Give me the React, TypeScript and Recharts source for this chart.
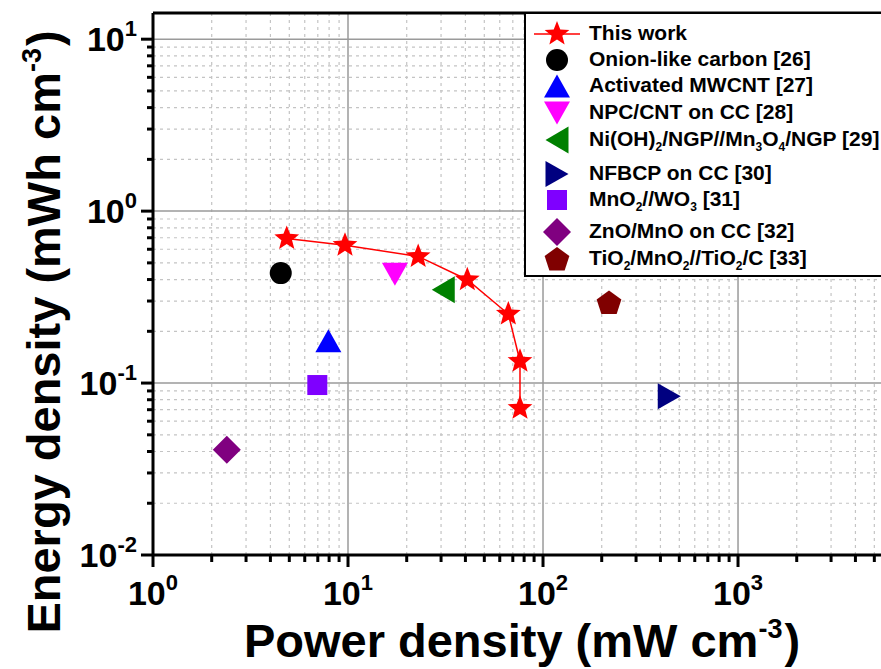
import React from "react";
import { ScatterChart, Scatter, XAxis, YAxis, ReferenceLine, Label } from "recharts";

const FONT = '"Liberation Sans", Arial, sans-serif';

// x: power density (mW cm-3), y: energy density (mWh cm-3)
const thisWorkX = [4.85, 9.65, 22.9, 40.9, 66.4, 76.2, 76.2];
const thisWorkY = [0.694, 0.634, 0.545, 0.399, 0.252, 0.134, 0.0713];

const refNames = [
  "Onion-like carbon [26]",
  "Activated MWCNT [27]",
  "NPC/CNT on CC [28]",
  "Ni(OH)_2/NGP//Mn_3O_4/NGP [29]",
  "NFBCP on CC [30]",
  "MnO_2//WO_3 [31]",
  "ZnO/MnO on CC [32]",
  "TiO_2/MnO_2//TiO_2/C [33]",
];
const refX = [4.52, 7.93, 17.4, 30.8, 444, 6.96, 2.39, 218];
const refY = [0.436, 0.176, 0.43, 0.349, 0.0837, 0.0974, 0.0409, 0.294];
const refColors = ["#000000", "#0000ff", "#ff00ff", "#008000", "#000080", "#7f00ff", "#800080", "#800000"];
const refShapes = ["circle", "up", "down", "left", "right", "square", "diamond", "pentagon"];

const xMajor = [1, 10, 100, 1000];
const yMajor = [0.01, 0.1, 1, 10];
const xMinor = [2, 3, 4, 5, 6, 7, 8, 9, 20, 30, 40, 50, 60, 70, 80, 90, 200, 300, 400, 500, 600, 700, 800, 900, 2000, 3000, 4000, 5000];
const yMinor = [0.02, 0.03, 0.04, 0.05, 0.06, 0.07, 0.08, 0.09, 0.2, 0.3, 0.4, 0.5, 0.6, 0.7, 0.8, 0.9, 2, 3, 4, 5, 6, 7, 8, 9];
const X_DOMAIN = [1, 5410];
const Y_DOMAIN = [0.01, 14.2];

const legendTops = [32, 58, 84, 111, 138, 172, 198, 230, 257];

function polygon(cx: number, cy: number, n: number, r: number, rot: number, inner?: number) {
  const pts: string[] = [];
  const count = inner ? n * 2 : n;
  for (let i = 0; i < count; i++) {
    const rr = inner && i % 2 === 1 ? inner : r;
    const a = rot + (i * Math.PI * 2) / count;
    pts.push(`${cx + rr * Math.cos(a)},${cy + rr * Math.sin(a)}`);
  }
  return pts.join(" ");
}

function Marker({ kind, cx, cy, color }: { kind: string; cx: number; cy: number; color: string }) {
  switch (kind) {
    case "star":
      return <polygon points={polygon(cx, cy, 5, 13, -Math.PI / 2, 5.6)} fill={color} />;
    case "circle":
      return <circle cx={cx} cy={cy} r={11} fill={color} />;
    case "up":
      return <polygon points={`${cx},${cy - 11.5} ${cx + 13},${cy + 11.5} ${cx - 13},${cy + 11.5}`} fill={color} />;
    case "down":
      return <polygon points={`${cx},${cy + 11.5} ${cx + 13},${cy - 11.5} ${cx - 13},${cy - 11.5}`} fill={color} />;
    case "left":
      return <polygon points={`${cx - 11.5},${cy} ${cx + 11.5},${cy - 13.5} ${cx + 11.5},${cy + 13.5}`} fill={color} />;
    case "right":
      return <polygon points={`${cx + 11.5},${cy} ${cx - 11.5},${cy - 13} ${cx - 11.5},${cy + 13}`} fill={color} />;
    case "square":
      return <rect x={cx - 10} y={cy - 10} width={20} height={20} fill={color} />;
    case "diamond":
      return <polygon points={`${cx},${cy - 14} ${cx + 14},${cy} ${cx},${cy + 14} ${cx - 14},${cy}`} fill={color} />;
    case "pentagon":
      return <polygon points={polygon(cx, cy + 1, 5, 13, -Math.PI / 2)} fill={color} />;
    default:
      return null;
  }
}

const shapeFor = (kind: string, color: string) => (p: any) => <Marker kind={kind} cx={p.cx} cy={p.cy} color={color} />;

function XTick(props: any) {
  const { x, y, payload } = props;
  const v = payload.value;
  const major = xMajor.includes(v);
  return (
    <g>
      <line x1={x} x2={x} y1={y} y2={y + (major ? 12 : 7)} stroke="#000" strokeWidth={3} />
      {major && (
        <text x={x} y={y + 50} textAnchor="middle" fontFamily={FONT} fontWeight="bold" fontSize={34} fill="#000">
          10
          <tspan dy={-15} fontSize={22}>{Math.round(Math.log10(v))}</tspan>
        </text>
      )}
    </g>
  );
}

function YTick(props: any) {
  const { x, y, payload } = props;
  const v = payload.value;
  const major = yMajor.includes(v);
  return (
    <g>
      <line x1={x} x2={x - (major ? 12 : 6)} y1={y} y2={y} stroke="#000" strokeWidth={3} />
      {major && (
        <text x={x - 16} y={y + 12} textAnchor="end" fontFamily={FONT} fontWeight="bold" fontSize={34} fill="#000">
          10
          <tspan dy={-15} fontSize={22}>{Math.round(Math.log10(v))}</tspan>
        </text>
      )}
    </g>
  );
}

function withSubs(s: string) {
  const parts = s.split(/_(\d)/);
  return parts.map((p, i) =>
    i % 2 === 1 ? (
      <sub key={i} style={{ fontSize: 12, verticalAlign: "-5px" }}>{p}</sub>
    ) : (
      <span key={i}>{p}</span>
    )
  );
}

function LegendBox() {
  const rows = [{ name: "This work", kind: "star", color: "#ff0000" }].concat(
    refNames.map((n, i) => ({ name: n, kind: refShapes[i], color: refColors[i] }))
  );
  return (
    <div
      style={{
        position: "absolute",
        left: 524,
        top: 12,
        width: 400,
        height: 265,
        border: "2px solid #000",
        background: "#fff",
        boxSizing: "border-box",
      }}
    >
      {rows.map((r, i) => (
        <div key={r.name} style={{ position: "absolute", left: 0, top: legendTops[i] - 12 - 15, height: 30, width: 400 }}>
          <svg width={60} height={30} style={{ position: "absolute", left: 0, top: 0 }}>
            {r.kind === "star" && <line x1={8} x2={54} y1={15} y2={15} stroke="#ff0000" strokeWidth={1.5} />}
            <Marker kind={r.kind} cx={31} cy={15} color={r.color} />
          </svg>
          <div
            style={{
              position: "absolute",
              left: 63,
              top: 1,
              fontFamily: FONT,
              fontWeight: "bold",
              fontSize: 21,
              lineHeight: "26px",
              whiteSpace: "nowrap",
              color: "#000",
            }}
          >
            {withSubs(r.name)}
          </div>
        </div>
      ))}
    </div>
  );
}

export default function App() {
  const thisWork = thisWorkX.map((x, i) => ({ x, y: thisWorkY[i] }));
  return (
    <div style={{ position: "absolute", left: 0, top: 0, width: 881, height: 669, overflow: "hidden", background: "#fff" }}>
      <ScatterChart width={881} height={669} margin={{ top: 13, right: 0, bottom: 0, left: 0 }}>
        <XAxis
          type="number"
          dataKey="x"
          scale="log"
          domain={X_DOMAIN}
          allowDataOverflow
          ticks={[...xMajor, ...xMinor].sort((a, b) => a - b)}
          interval={0}
          height={114}
          tickSize={0}
          tickMargin={0}
          tickLine={false}
          tick={<XTick />}
          axisLine={{ stroke: "#000", strokeWidth: 3 }}
        >
          <Label
            content={() => (
              <text x={522} y={657} textAnchor="middle" fontFamily={FONT} fontWeight="bold" fontSize={47} fill="#000">
                Power density (mW cm<tspan dy={-19} fontSize={27}>-3</tspan><tspan dx={2} dy={19}>)</tspan>
              </text>
            )}
          />
        </XAxis>
        <YAxis
          type="number"
          dataKey="y"
          scale="log"
          domain={Y_DOMAIN}
          allowDataOverflow
          ticks={[...yMajor, ...yMinor].sort((a, b) => a - b)}
          interval={0}
          width={153}
          tickSize={0}
          tickMargin={0}
          tickLine={false}
          tick={<YTick />}
          axisLine={{ stroke: "#000", strokeWidth: 3 }}
        >
          <Label
            content={() => (
              <text
                x={60}
                y={332}
                transform="rotate(-90 60 332)"
                textAnchor="middle"
                fontFamily={FONT}
                fontWeight="bold"
                fontSize={47}
                fill="#000"
              >
                Energy density (mWh cm<tspan dy={-19} fontSize={27}>-3</tspan><tspan dx={2} dy={19}>)</tspan>
              </text>
            )}
          />
        </YAxis>
        {xMinor.map((v) => (
          <ReferenceLine key={`xm${v}`} x={v} stroke="#c4c4c4" strokeWidth={1.2} strokeDasharray="3 4" />
        ))}
        {yMinor.map((v) => (
          <ReferenceLine key={`ym${v}`} y={v} stroke="#c4c4c4" strokeWidth={1.2} strokeDasharray="3 4" />
        ))}
        {xMajor.slice(1).map((v) => (
          <ReferenceLine key={`xM${v}`} x={v} stroke="#9a9a9a" strokeWidth={1.5} />
        ))}
        {yMajor.slice(1).map((v) => (
          <ReferenceLine key={`yM${v}`} y={v} stroke="#9a9a9a" strokeWidth={1.5} />
        ))}
        <ReferenceLine y={Y_DOMAIN[1]} stroke="#000" strokeWidth={3} />
        {refNames.map((n, i) => (
          <Scatter
            key={n}
            name={n}
            data={[{ x: refX[i], y: refY[i] }]}
            shape={shapeFor(refShapes[i], refColors[i])}
            isAnimationActive={false}
          />
        ))}
        <Scatter
          name="This work"
          data={thisWork}
          line={{ stroke: "#ff0000", strokeWidth: 1.5 }}
          lineType="joint"
          shape={shapeFor("star", "#ff0000")}
          isAnimationActive={false}
        />
      </ScatterChart>
      <LegendBox />
    </div>
  );
}
